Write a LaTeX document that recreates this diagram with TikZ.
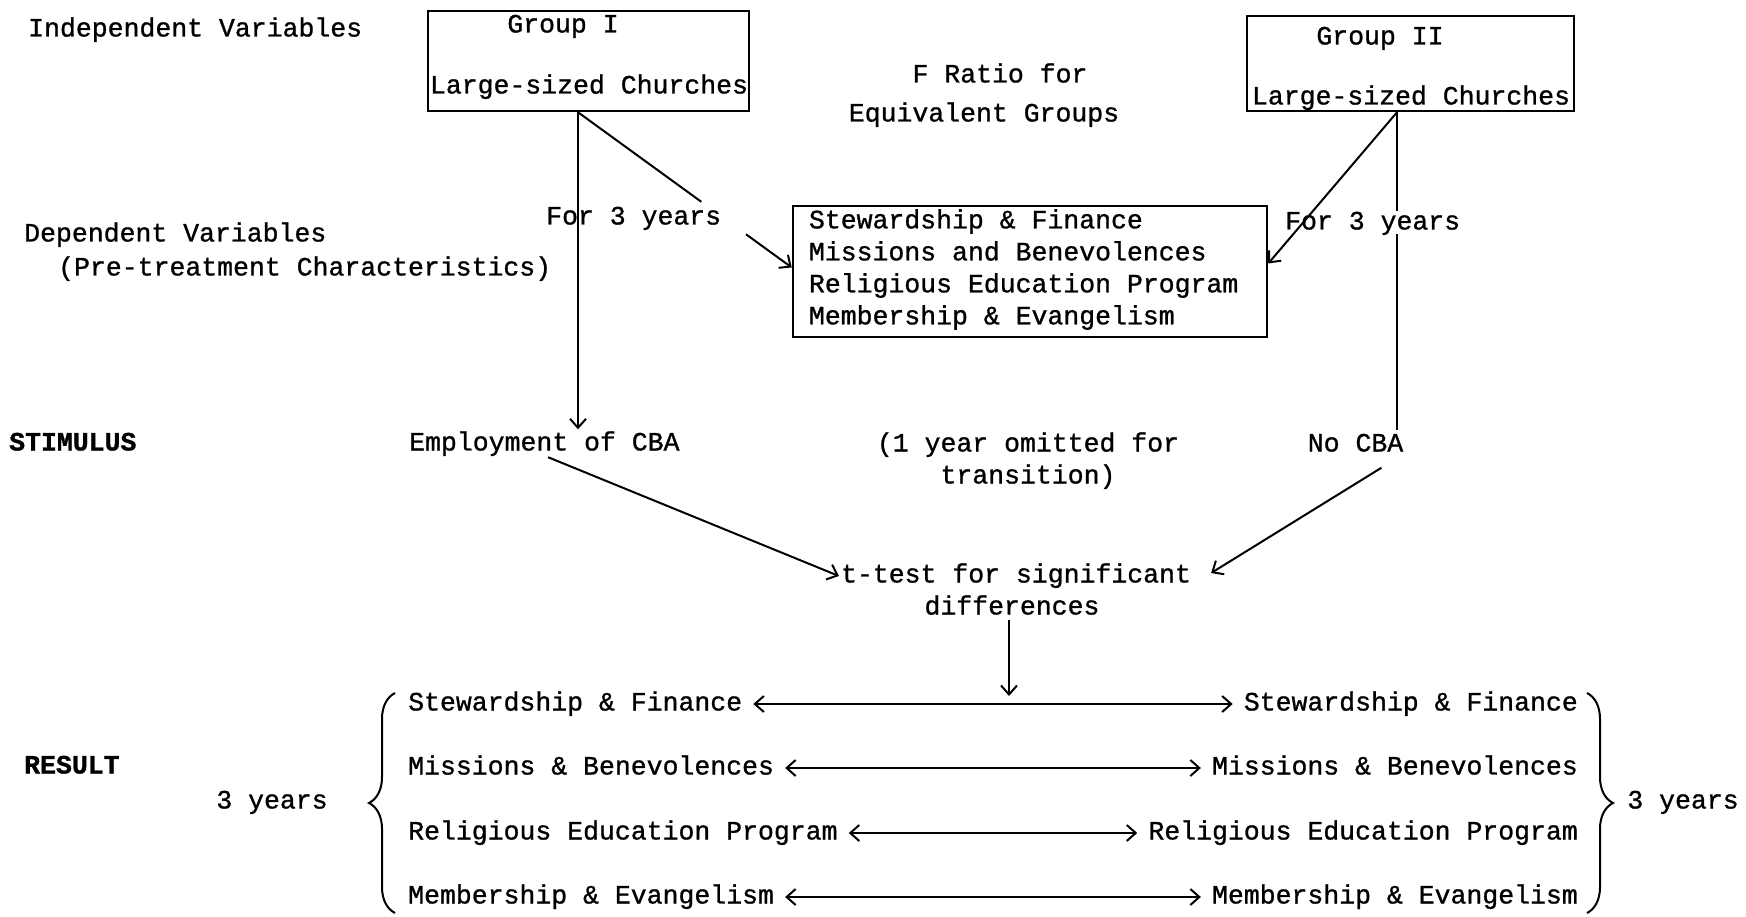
\documentclass[tikz,border=0pt]{standalone}
\usepackage{fontspec}
\setmainfont{Liberation Mono}[FakeBold=1]
\usetikzlibrary{arrows.meta,calc,decorations.pathreplacing}
\begin{document}
\begin{tikzpicture}[x=1pt,y=-1pt,
  txt/.style={font=\fontsize{26.5}{32}\selectfont, inner sep=0pt, text height=18pt, text depth=5pt},
  res/.style={txt, inner xsep=11pt},
  box/.style={draw, line width=2.5pt, inner sep=0pt},
  ln/.style={line width=2pt},
  arr/.style={ln, -{Straight Barb[length=9pt,width=16pt]}},
  darr/.style={ln, {Straight Barb[length=9pt,width=16pt]}-{Straight Barb[length=9pt,width=16pt]}},
  br/.style={line width=2pt, decorate, decoration={brace, amplitude=26pt}}]

\fill[white] (0,0) rectangle (1746,917);
\useasboundingbox (0,0) rectangle (1746,917);

% left labels
\node[txt, anchor=west] (iv) at (28,30) {Independent Variables};
\node[txt, anchor=west] (dv1) at (24,235) {Dependent Variables};
\node[txt, anchor=west] (dv2) at (58,269) {(Pre-treatment Characteristics)};
\node[txt, anchor=west] (stim) at (9,444) {\textbf{STIMULUS}};
\node[txt, anchor=west] (result) at (24,767) {\textbf{RESULT}};

% group boxes
\node[box, minimum width=321pt, minimum height=100pt] (g1) at (588.5,61) {};
\node[txt] (g1t1) at (563,26) {Group I};
\node[txt] (g1t2) at (589,87) {Large-sized Churches};
\node[box, minimum width=327pt, minimum height=95pt] (g2) at (1410.5,63.5) {};
\node[txt] (g2t1) at (1380,38) {Group II};
\node[txt] (g2t2) at (1411,98) {Large-sized Churches};

\node[txt] (fr1) at (1000,76) {F Ratio for};
\node[txt] (fr2) at (984,115) {Equivalent Groups};

% dependent variables box
\node[box, minimum width=474pt, minimum height=131pt] (mb) at (1030,271.5) {};
\node[font=\fontsize{26.5}{32}\selectfont, align=left, inner sep=0pt, anchor=west]
  (mbt) at ($(mb.west)+(17,-2)$)
  {Stewardship \& Finance\\Missions and Benevolences\\Religious Education Program\\Membership \& Evangelism};

\coordinate (g1o) at ($(g1.south)+(-10.5,0)$);
\coordinate (g2o) at ($(g2.south)+(-13.5,0)$);

% stimulus row
\node[txt, anchor=west] (emp) at (409,444) {Employment of CBA};
\node[txt] (om1) at (1028,445) {(1 year omitted for};
\node[txt] (om2) at (1028,477) {transition)};
\node[txt] (nocba) at (1355.5,445) {No CBA};

% left branch
\node[txt, anchor=west] (fy1) at (546,218) {For 3 years};
\coordinate (d1a) at ($(g1o)!0.577!($(mb.west)+(0,-4)$)$);
\coordinate (d1b) at ($(g1o)!0.786!($(mb.west)+(0,-4)$)$);
\draw[ln] (g1o) -- (d1a);
\draw[arr] (d1b) -- ($(mb.west)+(0,-4)$);
\draw[arr, shorten >=3pt] (g1o) -- (g1o |- emp.north);

% right branch
\draw[ln, shorten >=3pt] (g2o) -- (g2o |- nocba.north);
\node[txt, anchor=west, fill=white] (fy2) at (1285,223) {For 3 years};
\draw[arr] (g2o) -- ($(mb.east)+(0,-8)$);

% t-test
\node[txt] (tt1) at (1016,576) {t-test for significant};
\node[txt] (tt2) at (1012,608) {differences};
\draw[arr, shorten <=4pt] (emp.south) -- ($(tt1.west)+(-2,0)$);
\draw[arr] ($(nocba.south)+(26,11)$) -- ($(tt1.east)+(20,-3)$);

% results
\node[res, anchor=west] (l1) at (397,704) {Stewardship \& Finance};
\node[res, anchor=west] (l2) at (397,768) {Missions \& Benevolences};
\node[res, anchor=west] (l3) at (397,833) {Religious Education Program};
\node[res, anchor=west] (l4) at (397,897) {Membership \& Evangelism};
\node[res, anchor=east] (r1) at (1589,704) {Stewardship \& Finance};
\node[res, anchor=east] (r2) at (1589,768) {Missions \& Benevolences};
\node[res, anchor=east] (r3) at (1589,833) {Religious Education Program};
\node[res, anchor=east] (r4) at (1589,897) {Membership \& Evangelism};
\draw[darr] (l1.east) -- (r1.west);
\draw[darr] (l2.east) -- (r2.west);
\draw[darr] (l3.east) -- (r3.west);
\draw[darr] (l4.east) -- (r4.west);
\draw[arr, shorten >=8pt] ([xshift=-3pt]tt2.south) -- ([xshift=-3pt]tt2.south |- l1.east);

% braces
\draw[br] (395,913) -- (395,693);
\draw[br] (1587,693) -- (1587,913);
\node[txt] (y3l) at (272,802) {3 years};
\node[txt] (y3r) at (1683,802) {3 years};

\end{tikzpicture}
\end{document}
